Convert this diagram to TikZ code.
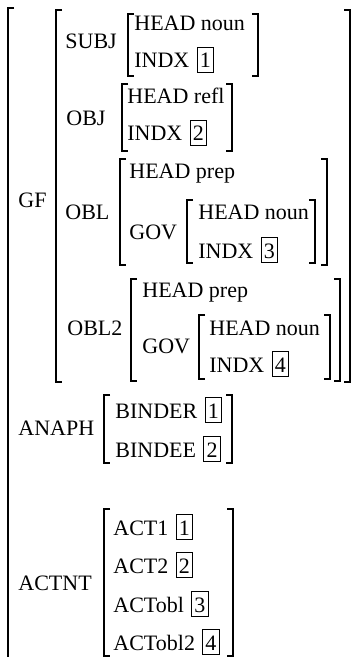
\documentclass[tikz,border=0pt]{standalone}
\usepackage{fontspec}
\setmainfont{Liberation Serif}
\usetikzlibrary{positioning}

\tikzset{
  feat/.style={anchor=base west, inner sep=0pt},
  tag/.style={draw, line width=0.5pt, inner xsep=1.3pt, inner ysep=1.5pt,
              text height=8.8pt, text depth=0.6pt},
  brk/.style={line width=0.65pt},
}
% left x, right x, top y, bottom y
\newcommand{\avmbrk}[4]{%
  \draw[brk] (#1+6,#3) -- (#1,#3) -- (#1,#4) -- (#1+6,#4);
  \draw[brk] (#2-6,#3) -- (#2,#3) -- (#2,#4) -- (#2-6,#4);
}

\begin{document}
\begin{tikzpicture}[x=0.5pt, y=-0.5pt, font=\fontsize{11}{13}\selectfont]
    \useasboundingbox (0,0) rectangle (355,657);

    % outer matrix, cut at the bottom
    \draw[brk] (14,8) -- (8,8) -- (8,657);

    % GF
    \node[feat] (gf) at (18,208) {GF};
    \avmbrk{56}{350}{10}{382}

    \node[feat] (subj) at (65,49) {SUBJ};
    \avmbrk{128}{258}{14}{76}
    \node[feat] (subjhead) at (134,31) {HEAD noun};
    \node[feat] (subjindx) at (134,68) {INDX};
    \node[tag, base right=3.5pt of subjindx] (subjtag) {1};

    \node[feat] (obj) at (66,126) {OBJ};
    \avmbrk{122}{232}{84}{151}
    \node[feat] (objhead) at (127,104) {HEAD refl};
    \node[feat] (objindx) at (127,141) {INDX};
    \node[tag, base right=3.5pt of objindx] (objtag) {2};

    \node[feat] (obl) at (65,220) {OBL};
    \avmbrk{120}{327}{159}{265}
    \node[feat] (oblhead) at (129,179) {HEAD prep};
    \node[feat] (oblgov) at (129,240) {GOV};
    \avmbrk{187}{315}{200}{263}
    \node[feat] (oblgovhead) at (198,220) {HEAD noun};
    \node[feat] (oblgovindx) at (198,258) {INDX};
    \node[tag, base right=3.5pt of oblgovindx] (oblgovtag) {3};

    \node[feat] (obltwo) at (67,335) {OBL2};
    \avmbrk{131}{340}{279}{381}
    \node[feat] (obltwohead) at (142,298) {HEAD prep};
    \node[feat] (obltwogov) at (142,353) {GOV};
    \avmbrk{199}{330}{315}{379}
    \node[feat] (obltwogovhead) at (209,335) {HEAD noun};
    \node[feat] (obltwogovindx) at (209,372) {INDX};
    \node[tag, base right=3.5pt of obltwogovindx] (obltwogovtag) {4};

    % ANAPH
    \node[feat] (anaph) at (18,435) {ANAPH};
    \avmbrk{104}{232}{395}{463}
    \node[feat] (binder) at (115,418) {BINDER};
    \node[tag, base right=3.5pt of binder] (bindertag) {1};
    \node[feat] (bindee) at (115,457) {BINDEE};
    \node[tag, base right=3.5pt of bindee] (bindeetag) {2};

    % ACTNT
    \node[feat] (actnt) at (18,590) {ACTNT};
    \avmbrk{104}{233}{509}{656}
    \node[feat] (actone) at (113,535) {ACT1};
    \node[tag, base right=3.5pt of actone] (actonetag) {1};
    \node[feat] (acttwo) at (113,573) {ACT2};
    \node[tag, base right=3.5pt of acttwo] (acttwotag) {2};
    \node[feat] (actobl) at (113,612) {ACTobl};
    \node[tag, base right=3.5pt of actobl] (actobltag) {3};
    \node[feat] (actobltwo) at (113,650) {ACTobl2};
    \node[tag, base right=3.5pt of actobltwo] (actobltwotag) {4};
\end{tikzpicture}
\end{document}
